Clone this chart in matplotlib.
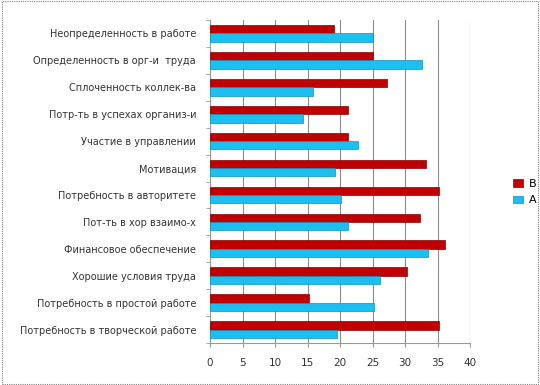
import matplotlib
matplotlib.use("Agg")
import matplotlib.pyplot as plt
import numpy as np
from matplotlib.patches import Rectangle

categories = [
    "Неопределенность в работе",
    "Определенность в орг-и  труда",
    "Сплоченность коллек-ва",
    "Потр-ть в успехах организ-и",
    "Участие в управлении",
    "Мотивация",
    "Потребность в авторитете",
    "Пот-ть в хор взаимо-х",
    "Финансовое обеспечение",
    "Хорошие условия труда",
    "Потребность в простой работе",
    "Потребность в творческой работе",
]
series_b = [19, 25, 27.3, 21.3, 21.3, 33.2, 35.3, 32.3, 36.2, 30.3, 15.3, 35.2]
series_a = [25, 32.6, 15.8, 14.3, 22.7, 19.2, 20.1, 21.2, 33.5, 26.1, 25.3, 19.5]
xticks = [0, 5, 10, 15, 20, 25, 30, 35, 40]

red = "#C00000"
blue = "#1CC0F0"

fig = plt.figure(figsize=(5.4, 3.85), dpi=100)
fig.patch.set_facecolor("white")
# dotted border around the chart
fig.add_artist(Rectangle((0.003, 0.003), 0.994, 0.994, transform=fig.transFigure,
                         fill=False, edgecolor="#808080", linestyle=(0, (1, 1)), linewidth=0.8))

ax = fig.add_axes([210/540, 1 - 343/385, (470-210)/540, (343-20)/385])
y = np.arange(len(categories))
h = 0.31
ax.barh(y - h/2, series_b, height=h, color=red, edgecolor="#8B0000", linewidth=0.5, label="В", zorder=3)
ax.barh(y + h/2, series_a, height=h, color=blue, edgecolor="#0E90C0", linewidth=0.5, label="А", zorder=3)

ax.set_xlim(0, 40)
ax.set_ylim(len(categories) - 0.5, -0.5)
ax.set_xticks(xticks)
ax.set_xticklabels([str(t) for t in xticks], fontsize=7.5, color="#333333")
ax.set_yticks(y)
ax.set_yticklabels(categories, fontsize=7, color="#333333")
ax.tick_params(axis="y", length=0, pad=10)
ax.set_yticks(np.arange(-0.5, len(categories), 1), minor=True)
ax.tick_params(axis="y", which="minor", length=3, color="#999999")
ax.tick_params(axis="x", length=3, color="#999999", pad=8)
ax.grid(axis="x", color="#8c8c8c", linewidth=0.8, zorder=0)
for s in ["top", "right"]:
    ax.spines[s].set_visible(False)
for s in ["left", "bottom"]:
    ax.spines[s].set_color("#999999")
    ax.spines[s].set_linewidth(0.8)

handles, labels = ax.get_legend_handles_labels()
fig.legend(handles, labels, loc="center left", bbox_to_anchor=(503/540, 1 - 192/385),
           frameon=False, fontsize=8, handlelength=0.9, handleheight=0.7,
           handletextpad=0.5, labelspacing=0.6)

fig.savefig("out.png", dpi=100)
